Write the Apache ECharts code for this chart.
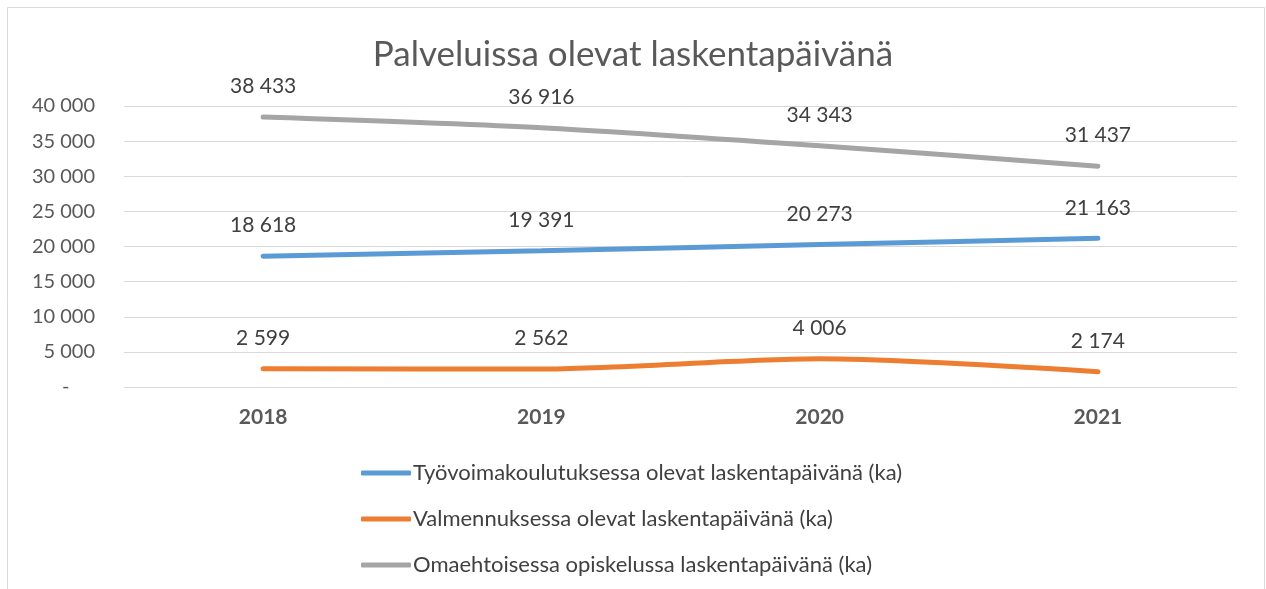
<!DOCTYPE html>
<html>
<head>
<meta charset="utf-8">
<script src="https://cdn.jsdelivr.net/npm/echarts@6/dist/echarts.min.js"></script>
<style>
  html, body { margin: 0; padding: 0; background: #ffffff; }
  #main { width: 1266px; height: 589px; }
</style>
</head>
<body>
<div id="main"></div>
<script>
// vuodet x-akselilla
var years = ['2018', '2019', '2020', '2021'];

// sarjat
var tyovoimakoulutus = [18618, 19391, 20273, 21163];
var valmennus = [2599, 2562, 4006, 2174];
var omaehtoinen = [38433, 36916, 34343, 31437];

var seriesNames = [
  'Työvoimakoulutuksessa olevat laskentapäivänä (ka)',
  'Valmennuksessa olevat laskentapäivänä (ka)',
  'Omaehtoisessa opiskelussa laskentapäivänä (ka)'
];

var FONT = 'Lato, "Open Sans", sans-serif';

function fmt(v) {
  if (v === 0) return '-';
  return String(v).replace(/\B(?=(\d{3})+(?!\d))/g, ' ');
}

function makeSeries(name, data, color) {
  return {
    name: name,
    type: 'line',
    data: data,
    smooth: 0.25,
    symbol: 'circle',
    symbolSize: 0,
    showSymbol: true,
    lineStyle: { width: 5, color: color, cap: 'round' },
    itemStyle: { color: color },
    label: {
      show: true,
      position: 'top',
      distance: 20,
      fontFamily: FONT,
      fontSize: 21,
      color: '#404040',
      formatter: function (p) { return fmt(p.value); }
    }
  };
}

var chart = echarts.init(document.getElementById('main'));

var option = {
  backgroundColor: '#ffffff',
  animation: false,
  title: {
    text: 'Palveluissa olevat laskentapäivänä',
    left: 'center',
    top: 32,
    textStyle: { fontFamily: FONT, fontSize: 35, fontWeight: 'normal', color: '#595959' }
  },
  graphic: [{
    type: 'rect',
    shape: { x: 7.5, y: 7.5, width: 1257, height: 620 },
    style: { fill: 'none', stroke: '#d9d9d9', lineWidth: 1 },
    silent: true
  }],
  grid: { left: 124, right: 29, top: 106, height: 281 },
  legend: {
    orient: 'vertical',
    left: 356,
    top: 457,
    itemGap: 24,
    itemWidth: 50,
    itemHeight: 5,
    icon: 'roundRect',
    textStyle: { fontFamily: FONT, fontSize: 22, color: '#404040', padding: [0, 0, 0, -3] },
    data: seriesNames
  },
  xAxis: {
    type: 'category',
    data: years,
    boundaryGap: true,
    axisLine: { show: false },
    axisTick: { show: false },
    axisLabel: { fontFamily: FONT, fontSize: 21, fontWeight: 'bold', color: '#595959', margin: 20 }
  },
  yAxis: {
    type: 'value',
    min: 0,
    max: 40000,
    interval: 5000,
    axisLine: { show: false },
    axisTick: { show: false },
    splitLine: { lineStyle: { color: '#d9d9d9', width: 1 } },
    axisLabel: {
      fontFamily: FONT, fontSize: 20, color: '#595959', margin: 29,
      formatter: function (v) { return v === 0 ? '-     ' : fmt(v); }
    }
  },
  series: [
    makeSeries(seriesNames[0], tyovoimakoulutus, '#5b9bd5'),
    makeSeries(seriesNames[1], valmennus, '#ed7d31'),
    makeSeries(seriesNames[2], omaehtoinen, '#a5a5a5')
  ]
};

chart.setOption(option);
</script>
</body>
</html>
